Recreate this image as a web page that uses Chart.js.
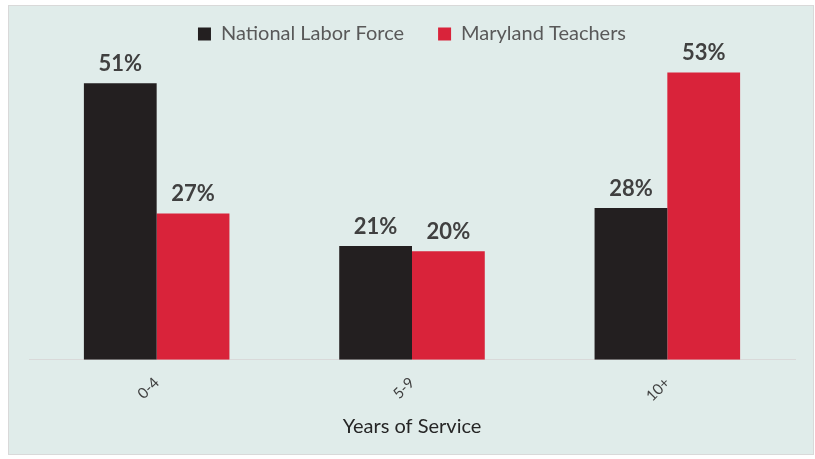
<!DOCTYPE html>
<html>
<head>
<meta charset="utf-8">
<script src="https://cdn.jsdelivr.net/npm/chart.js@4/dist/chart.umd.min.js"></script>
<style>
  html, body { margin: 0; padding: 0; background: #ffffff; }
  #box {
    position: absolute; left: 8px; top: 5px;
    width: 804px; height: 448px;
    background: #e0ecea; border: 1px solid #d9d9d9;
  }
</style>
</head>
<body>
<div id="box"><canvas id="chart"></canvas></div>
<script>
const categories = ["0-4", "5-9", "10+"];
const national = [51, 21, 28];
const maryland = [27, 20, 53];
const series_names = ["National Labor Force", "Maryland Teachers"];

// bold percentages over each bar
const bar_labels = {
    id: "bar_labels",
    afterDatasetsDraw(chart) {
        const ctx = chart.ctx;
        ctx.save();
        ctx.font = "bold 22px Lato";
        ctx.fillStyle = "#404040";
        ctx.textAlign = "center";
        ctx.textBaseline = "alphabetic";
        chart.data.datasets.forEach((ds, i) => {
            chart.getDatasetMeta(i).data.forEach((bar, j) => {
                ctx.fillText(ds.data[j] + "%", bar.x, bar.y - 12);
            });
        });
        ctx.restore();
    }
};

const ctx = document.getElementById("chart");
const chart = new Chart(ctx, {
    type: "bar",
    data: {
        labels: categories,
        datasets: [
            { label: series_names[0], data: national, backgroundColor: "#231f20" },
            { label: series_names[1], data: maryland, backgroundColor: "#d9233a" }
        ]
    },
    options: {
        responsive: true,
        maintainAspectRatio: false,
        animation: false,
        layout: { padding: { left: 20, right: 18, top: -16, bottom: 11 } },
        datasets: { bar: { categoryPercentage: 0.57, barPercentage: 1.0 } },
        plugins: {
            legend: {
                position: "top",
                labels: {
                    boxWidth: 13, boxHeight: 13, padding: 34,
                    color: "#595959",
                    font: { family: "Lato", size: 20 }
                }
            },
            tooltip: { enabled: false }
        },
        scales: {
            x: {
                grid: { display: false },
                border: { display: true, color: "#d9d9d9" },
                ticks: {
                    minRotation: 45, maxRotation: 45,
                    color: "#404040",
                    font: { family: "Lato", size: 15 },
                    padding: 6
                },
                title: {
                    display: true,
                    text: "Years of Service",
                    color: "#262626",
                    font: { family: "Lato", size: 20 },
                    padding: { top: 4 }
                }
            },
            y: {
                display: false,
                min: 0,
                max: 56.4
            }
        }
    },
    plugins: [bar_labels]
});
</script>
</body>
</html>
